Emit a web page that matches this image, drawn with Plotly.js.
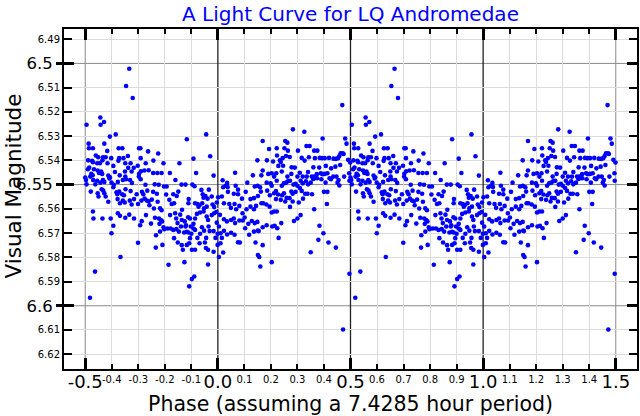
<!DOCTYPE html>
<html><head><meta charset="utf-8">
<script src="https://cdn.plot.ly/plotly-3.0.1.min.js"></script>
<style>html,body{margin:0;padding:0;background:#fff}#chart{width:640px;height:416px}</style>
</head><body><div id="chart"></div>
<script>
// Observations for phase -0.5 .. 0.0
const phaseA = [
-0.334,-0.346,-0.321,-0.495,-0.443,-0.429,-0.442,-0.385,-0.407,-0.117,
-0.044,-0.487,-0.486,-0.471,-0.428,-0.374,-0.360,-0.297,-0.292,-0.263,
-0.225,-0.417,-0.029,-0.460,-0.451,-0.433,-0.423,-0.402,-0.372,-0.356,
-0.339,-0.489,-0.474,-0.471,-0.455,-0.445,-0.435,-0.416,-0.375,-0.349,
-0.329,-0.291,-0.272,-0.243,-0.205,-0.145,-0.092,-0.490,-0.485,-0.467,
-0.477,-0.472,-0.453,-0.448,-0.440,-0.436,-0.413,-0.394,-0.388,-0.370,
-0.350,-0.338,-0.325,-0.317,-0.302,-0.297,-0.290,-0.277,-0.261,-0.244,
-0.228,-0.212,-0.181,-0.082,-0.016,-0.349,-0.407,-0.500,-0.497,-0.495,
-0.481,-0.470,-0.462,-0.455,-0.443,-0.433,-0.428,-0.409,-0.401,-0.392,
-0.377,-0.358,-0.346,-0.331,-0.324,-0.298,-0.291,-0.273,-0.238,-0.223,
-0.203,-0.193,-0.160,-0.137,-0.122,-0.096,-0.088,-0.062,-0.034,-0.479,
-0.453,-0.438,-0.428,-0.432,-0.394,-0.382,-0.379,-0.372,-0.361,-0.354,
-0.348,-0.329,-0.306,-0.286,-0.281,-0.266,-0.244,-0.230,-0.195,-0.168,
-0.149,-0.110,-0.057,-0.054,-0.047,-0.039,-0.023,0.001,-0.155,-0.004,
-0.450,-0.423,-0.413,-0.378,-0.369,-0.358,-0.351,-0.332,-0.325,-0.316,
-0.301,-0.288,-0.276,-0.268,-0.261,-0.249,-0.227,-0.258,-0.218,-0.183,
-0.174,-0.165,-0.212,-0.241,-0.135,-0.111,-0.086,-0.077,-0.073,-0.069,
-0.059,-0.052,-0.042,-0.020,-0.014,-0.006,-0.471,-0.469,-0.435,-0.404,
-0.377,-0.369,-0.349,-0.334,-0.316,-0.287,-0.293,-0.271,-0.252,-0.237,
-0.222,-0.215,-0.210,-0.220,-0.205,-0.180,-0.161,-0.157,-0.152,-0.142,
-0.136,-0.125,-0.120,-0.112,-0.105,-0.092,-0.086,-0.079,-0.067,-0.054,
-0.042,-0.037,-0.023,-0.014,-0.004,0.004,-0.394,-0.401,-0.233,-0.218,
-0.202,-0.190,-0.178,-0.168,-0.156,-0.147,-0.139,-0.127,-0.122,-0.117,
-0.111,-0.102,-0.100,-0.092,-0.086,-0.077,-0.067,-0.060,-0.052,-0.044,
-0.035,-0.031,-0.016,-0.009,-0.001,-0.165,-0.105,-0.301,-0.234,-0.209,
-0.151,-0.136,-0.132,-0.117,-0.108,-0.098,-0.086,-0.069,-0.049,-0.045,
-0.037,-0.016,-0.001,0.004,-0.367,-0.186,-0.126,-0.037,-0.463,-0.089,
-0.098,-0.108,-0.482
];
const magA = [
6.5022,6.5093,6.5143,6.5253,6.5223,6.5242,6.5253,6.5293,6.5302,6.5313,
6.5293,6.5331,6.5350,6.5350,6.5331,6.5350,6.5350,6.5350,6.5350,6.5363,
6.5372,6.5361,6.5383,6.5380,6.5387,6.5387,6.5387,6.5391,6.5391,6.5391,
6.5382,6.5400,6.5402,6.5408,6.5412,6.5412,6.5400,6.5412,6.5402,6.5412,
6.5412,6.5391,6.5412,6.5401,6.5412,6.5412,6.5393,6.5437,6.5430,6.5437,
6.5456,6.5462,6.5442,6.5452,6.5446,6.5456,6.5463,6.5423,6.5448,6.5462,
6.5446,6.5431,6.5446,6.5431,6.5422,6.5455,6.5445,6.5442,6.5441,6.5452,
6.5452,6.5452,6.5452,6.5452,6.5463,6.5467,6.5470,6.5471,6.5481,6.5499,
6.5467,6.5481,6.5499,6.5484,6.5492,6.5481,6.5489,6.5475,6.5492,6.5501,
6.5489,6.5481,6.5478,6.5481,6.5493,6.5467,6.5478,6.5501,6.5499,6.5501,
6.5508,6.5508,6.5481,6.5500,6.5500,6.5500,6.5507,6.5522,6.5521,6.5529,
6.5536,6.5519,6.5536,6.5525,6.5511,6.5532,6.5540,6.5529,6.5540,6.5544,
6.5519,6.5527,6.5540,6.5530,6.5540,6.5525,6.5530,6.5538,6.5541,6.5540,
6.5529,6.5560,6.5540,6.5554,6.5547,6.5558,6.5549,6.5552,6.5547,6.5574,
6.5549,6.5549,6.5571,6.5560,6.5577,6.5566,6.5574,6.5566,6.5582,6.5560,
6.5580,6.5566,6.5558,6.5566,6.5569,6.5562,6.5571,6.5585,6.5598,6.5563,
6.5580,6.5577,6.5606,6.5599,6.5604,6.5577,6.5577,6.5580,6.5591,6.5584,
6.5577,6.5598,6.5591,6.5582,6.5593,6.5613,6.5611,6.5640,6.5640,6.5640,
6.5618,6.5629,6.5637,6.5624,6.5640,6.5651,6.5668,6.5626,6.5661,6.5637,
6.5640,6.5646,6.5652,6.5662,6.5676,6.5626,6.5618,6.5640,6.5659,6.5624,
6.5646,6.5652,6.5668,6.5635,6.5640,6.5662,6.5640,6.5621,6.5615,6.5611,
6.5632,6.5646,6.5626,6.5618,6.5657,6.5673,6.5670,6.5701,6.5709,6.5694,
6.5684,6.5681,6.5681,6.5687,6.5684,6.5694,6.5673,6.5698,6.5673,6.5695,
6.5698,6.5673,6.5703,6.5681,6.5687,6.5720,6.5703,6.5676,6.5690,6.5720,
6.5673,6.5692,6.5692,6.5720,6.5703,6.5721,6.5721,6.5740,6.5760,6.5749,
6.5739,6.5750,6.5769,6.5749,6.5742,6.5769,6.5769,6.5742,6.5739,6.5762,
6.5769,6.5777,6.5749,6.5799,6.5799,6.5831,6.5820,6.5830,6.5859,6.5879,
6.5890,6.5920,6.5967
];
// Observations for phase 0.0 .. 0.5
const phaseB = [
0.469,0.283,0.326,0.169,0.395,0.480,0.485,0.334,0.346,0.254,
0.262,0.193,0.222,0.251,0.264,0.302,0.363,0.375,0.463,0.474,
0.149,0.185,0.223,0.234,0.244,0.257,0.271,0.278,0.290,0.316,
0.327,0.343,0.366,0.384,0.393,0.403,0.419,0.436,0.445,0.453,
0.458,0.471,0.491,0.499,0.208,0.228,0.246,0.237,0.360,0.382,
0.407,0.427,0.443,0.461,0.065,0.132,0.164,0.169,0.190,0.203,
0.212,0.220,0.241,0.262,0.277,0.300,0.309,0.320,0.335,0.340,
0.354,0.363,0.373,0.388,0.394,0.403,0.413,0.421,0.435,0.447,
0.455,0.476,0.495,0.018,0.035,0.029,0.020,0.037,0.067,0.076,
0.111,0.139,0.150,0.159,0.184,0.199,0.203,0.222,0.241,0.249,
0.257,0.264,0.272,0.285,0.293,0.300,0.312,0.320,0.332,0.340,
0.350,0.359,0.365,0.374,0.390,0.406,0.426,0.451,0.458,0.496,
0.015,0.038,0.060,0.076,0.091,0.105,0.123,0.136,0.151,0.162,
0.186,0.196,0.212,0.219,0.227,0.242,0.249,0.259,0.270,0.277,
0.282,0.293,0.309,0.316,0.329,0.338,0.355,0.400,0.413,0.219,
0.237,0.254,0.282,0.305,0.321,0.023,0.043,0.049,0.063,0.069,
0.081,0.093,0.108,0.123,0.136,0.144,0.164,0.171,0.183,0.195,
0.203,0.212,0.222,0.272,0.312,0.300,0.363,0.411,0.008,0.023,
0.034,0.050,0.060,0.065,0.081,0.094,0.101,0.115,0.128,0.139,
0.149,0.151,0.169,0.184,0.205,0.214,0.224,0.239,0.287,0.383,
0.398,0.379,0.417,0.445,0.010,0.023,0.035,0.050,0.063,0.076,
0.083,0.103,0.118,0.136,0.154,0.142,0.169,0.151,0.156,0.160,
0.203,0.229,0.350,0.015,0.020,0.010,0.496,0.472
];
const magB = [
6.5172,6.5272,6.5282,6.5320,6.5310,6.5310,6.5331,6.5341,6.5341,6.5320,
6.5327,6.5353,6.5350,6.5350,6.5360,6.5360,6.5360,6.5360,6.5371,6.5374,
6.5400,6.5400,6.5380,6.5400,6.5391,6.5382,6.5386,6.5429,6.5430,6.5390,
6.5401,6.5387,6.5391,6.5390,6.5391,6.5391,6.5390,6.5393,6.5394,6.5391,
6.5382,6.5371,6.5398,6.5409,6.5405,6.5423,6.5422,6.5407,6.5429,6.5430,
6.5423,6.5433,6.5426,6.5419,6.5451,6.5462,6.5462,6.5442,6.5456,6.5453,
6.5467,6.5453,6.5446,6.5467,6.5456,6.5467,6.5451,6.5467,6.5467,6.5448,
6.5467,6.5467,6.5457,6.5453,6.5457,6.5456,6.5453,6.5474,6.5467,6.5467,
6.5481,6.5467,6.5453,6.5482,6.5493,6.5505,6.5511,6.5510,6.5505,6.5521,
6.5492,6.5508,6.5505,6.5511,6.5492,6.5495,6.5505,6.5484,6.5505,6.5495,
6.5492,6.5486,6.5484,6.5500,6.5497,6.5505,6.5484,6.5495,6.5486,6.5499,
6.5492,6.5477,6.5474,6.5474,6.5478,6.5492,6.5478,6.5492,6.5504,6.5484,
6.5549,6.5530,6.5538,6.5540,6.5558,6.5530,6.5560,6.5556,6.5547,6.5529,
6.5525,6.5544,6.5536,6.5527,6.5541,6.5544,6.5536,6.5555,6.5556,6.5529,
6.5538,6.5530,6.5514,6.5526,6.5538,6.5538,6.5540,6.5530,6.5530,6.5560,
6.5563,6.5570,6.5570,6.5574,6.5558,6.5577,6.5580,6.5596,6.5580,6.5602,
6.5588,6.5618,6.5602,6.5591,6.5602,6.5588,6.5577,6.5577,6.5582,6.5591,
6.5615,6.5611,6.5611,6.5592,6.5626,6.5640,6.5602,6.5580,6.5625,6.5643,
6.5652,6.5646,6.5640,6.5659,6.5648,6.5648,6.5636,6.5662,6.5650,6.5659,
6.5654,6.5690,6.5676,6.5668,6.5673,6.5670,6.5680,6.5659,6.5650,6.5670,
6.5701,6.5728,6.5739,6.5760,6.5701,6.5691,6.5706,6.5699,6.5707,6.5738,
6.5739,6.5680,6.5707,6.5694,6.5692,6.5739,6.5750,6.5791,6.5799,6.5838,
6.5820,6.5720,6.5779,6.5720,6.5780,6.5742,6.5868,6.6098
];

const minorXTicks = [-0.4,-0.3,-0.2,-0.1,0.1,0.2,0.3,0.4,0.6,0.7,0.8,0.9,1.1,1.2,1.3,1.4];
const majorXTicks = [-0.5,0,0.5,1,1.5];
const majorXLabels = ['-0.5','0.0','0.5','1.0','1.5'];
const strongXLines = [0,0.5,1];
const minorYTicks = [6.49,6.51,6.52,6.53,6.54,6.56,6.57,6.58,6.59,6.61,6.62];
const majorYTicks = [6.5,6.55,6.6];
const majorYLabels = ['6.5','6.55','6.6'];

// one cycle, drawn twice (phase and phase + 1)
const phase = phaseA.concat(phaseB);
const mag = magA.concat(magB);
const xs = phase.concat(phase.map(p => p + 1));
const ys = mag.concat(mag);

const XR = [-0.58, 1.58];
const YR = [6.6261, 6.4858];
const FONT = 'DejaVu Sans, sans-serif';

// empty helper traces so the overlaid tick/label axes get drawn
const helper = (xa, ya) => ({type:'scatter', mode:'markers', x:[null], y:[null], xaxis:xa, yaxis:ya,
  hoverinfo:'skip', showlegend:false, marker:{opacity:0}});

const trace = {
  type: 'scatter', mode: 'markers', x: xs, y: ys, xaxis: 'x', yaxis: 'y',
  marker: {color: '#0000ff', size: 4.6, line: {width: 0}},
  hoverinfo: 'skip', showlegend: false
};

const shapes = [];
majorYTicks.forEach(v => shapes.push({type:'line', xref:'paper', yref:'y', x0:0, x1:1, y0:v, y1:v,
  line:{color:'#8a8a8a', width:1}, layer:'between'}));
majorXTicks.forEach(v => shapes.push({type:'line', xref:'x', yref:'paper', x0:v, x1:v, y0:0, y1:1,
  line:{color: strongXLines.includes(v) ? '#222' : '#8a8a8a', width: strongXLines.includes(v) ? 1.3 : 1}, layer:'between'}));

const layout = {
  width: 640, height: 416,
  margin: {l: 64, r: 3, t: 29, b: 47},
  paper_bgcolor: '#fff', plot_bgcolor: '#fff',
  font: {family: FONT, color: '#000'},
  showlegend: false,
  title: {text: 'A Light Curve for LQ Andromedae', font: {family: FONT, size: 20, color: '#0000ff'},
          x: 0.5, xref: 'paper', xanchor: 'center', y: 1 - 14/416, yref: 'container', yanchor: 'middle'},
  xaxis: {
    range: XR, fixedrange: true, tickmode: 'array', tickvals: minorXTicks,
    ticktext: minorXTicks.map(v => v.toFixed(1)), tickfont: {size: 10, family: FONT},
    ticks: 'inside', ticklen: 5, tickwidth: 2, tickcolor: '#000',
    showline: true, linecolor: '#000', linewidth: 2, mirror: 'ticks',
    showgrid: true, gridcolor: '#dcdcdc', gridwidth: 1, zeroline: false
  },
  xaxis2: {
    overlaying: 'x', anchor: 'y', side: 'bottom', range: XR, fixedrange: true, tickmode: 'array', tickvals: majorXTicks,
    ticktext: majorXLabels, tickfont: {size: 18, family: FONT},
    ticks: 'inside', ticklen: 11, tickwidth: 3, tickcolor: '#000', mirror: 'ticks',
    showline: false, showgrid: false, zeroline: false,
    title: {text: 'Phase (assuming a 7.4285 hour period)', font: {size: 20.5, family: FONT}, standoff: 2}
  },
  yaxis: {
    range: YR, fixedrange: true, tickmode: 'array', tickvals: minorYTicks,
    ticktext: minorYTicks.map(v => v.toFixed(2)), tickfont: {size: 10, family: FONT},
    ticks: 'inside', ticklen: 8, tickwidth: 2, tickcolor: '#000',
    showline: true, linecolor: '#000', linewidth: 2, mirror: 'ticks',
    showgrid: true, gridcolor: '#dcdcdc', gridwidth: 1, zeroline: false
  },
  yaxis2: {
    overlaying: 'y', anchor: 'x', side: 'left', range: YR, fixedrange: true, tickmode: 'array', tickvals: majorYTicks,
    ticktext: majorYLabels, tickfont: {size: 16.5, family: FONT},
    ticks: 'outside', ticklen: 7, tickwidth: 3, tickcolor: '#000',
    showline: false, showgrid: false, zeroline: false
  },
  yaxis3: {
    overlaying: 'y', anchor: 'x', side: 'left', range: YR, fixedrange: true, tickmode: 'array', tickvals: majorYTicks,
    showticklabels: false, ticks: 'inside', ticklen: 10, tickwidth: 3, tickcolor: '#000', mirror: 'ticks',
    showline: false, showgrid: false, zeroline: false
  },
  annotations: [{
    text: 'Visual Magnitude', textangle: -90, showarrow: false,
    xref: 'paper', yref: 'paper', x: (12.5 - 64) / 573, y: (369 - 186) / 340,
    xanchor: 'center', yanchor: 'middle', font: {size: 21.5, family: FONT, color: '#000'}
  }],
  shapes: shapes
};

Plotly.newPlot('chart', [trace, helper('x2','y'), helper('x','y2'), helper('x','y3')], layout,
  {displayModeBar: false, staticPlot: true});
</script>
</body></html>
